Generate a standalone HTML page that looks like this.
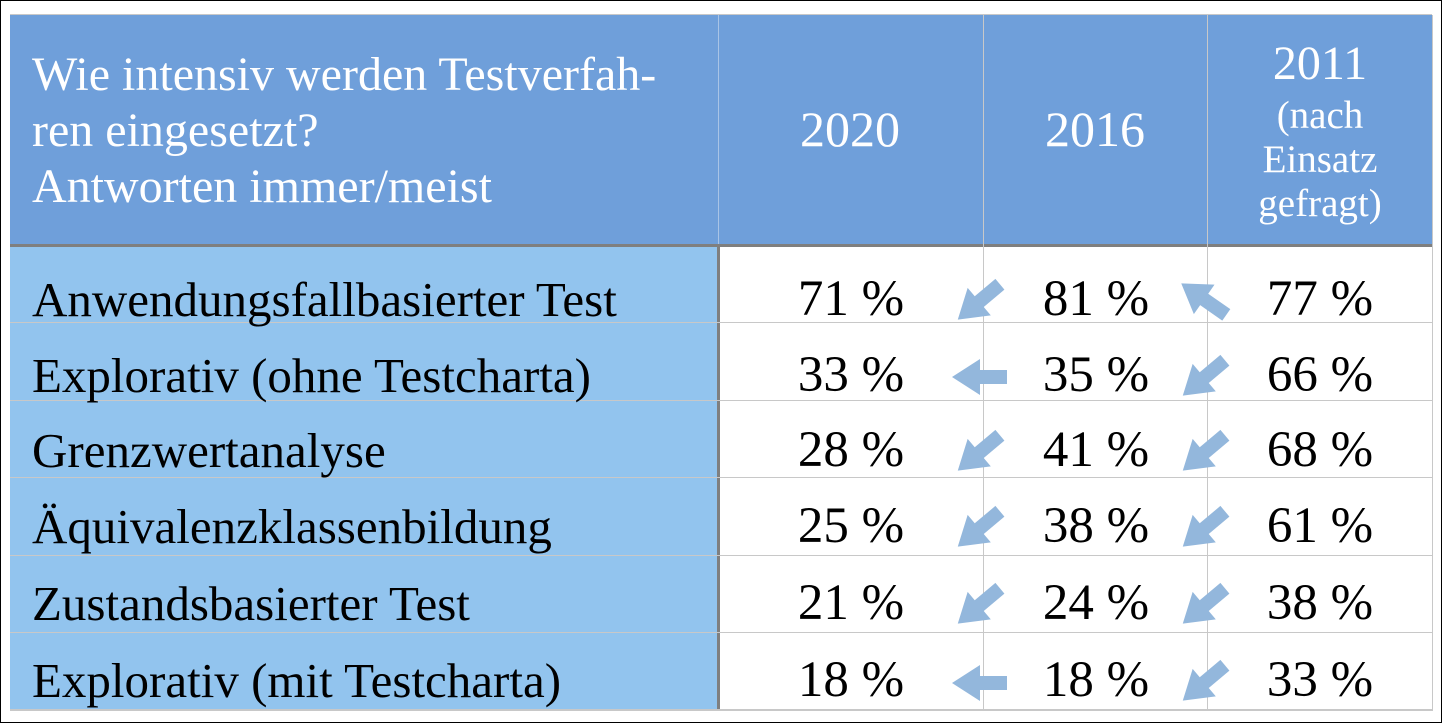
<!DOCTYPE html>
<html><head><meta charset="utf-8"><style>
body{margin:0;width:1442px;height:723px;background:#fff;overflow:hidden;position:relative;font-family:"Liberation Serif",serif}
.a{position:absolute}
.t{position:absolute;white-space:nowrap;line-height:1}
.w{color:#fff}
.n{font-size:51px;color:#000;text-align:center;width:200px}
.l{font-size:49px;color:#000;left:32px}
</style></head><body>
<div class="a" style="left:0;top:0;width:1440px;height:721px;border:1px solid #000"></div>
<div class="a" style="left:10px;top:15px;width:1422px;height:229px;background:#6f9fda"></div>
<div class="a" style="left:10px;top:246px;width:707px;height:463px;background:#92c4ee"></div>
<div class="a" style="left:10px;top:14px;width:1422px;height:1px;background:#c8c8c8"></div>
<div class="a" style="left:10px;top:244px;width:1422px;height:3px;background:#7f7f7f"></div>
<div class="a" style="left:717px;top:244px;width:3px;height:467px;background:#7f7f7f"></div>
<div class="a" style="left:718px;top:15px;width:1px;height:229px;background:#a9c4e6"></div>
<div class="a" style="left:983px;top:15px;width:1px;height:696px;background:#c8c8c8"></div>
<div class="a" style="left:1207px;top:15px;width:1px;height:696px;background:#c8c8c8"></div>
<div class="a" style="left:1432px;top:15px;width:1px;height:696px;background:#c8c8c8"></div>
<div class="a" style="left:10px;top:322px;width:1422px;height:1px;background:#c8c8c8"></div>
<div class="a" style="left:10px;top:400px;width:1422px;height:1px;background:#c8c8c8"></div>
<div class="a" style="left:10px;top:477px;width:1422px;height:1px;background:#c8c8c8"></div>
<div class="a" style="left:10px;top:555px;width:1422px;height:1px;background:#c8c8c8"></div>
<div class="a" style="left:10px;top:632px;width:1422px;height:1px;background:#c8c8c8"></div>
<div class="a" style="left:10px;top:709px;width:1422px;height:2px;background:#c8c8c8"></div>

<div class="t w" style="left:32px;top:47px;font-size:48px;line-height:56px">Wie intensiv werden Testverfah-<br>ren eingesetzt?<br>Antworten immer/meist</div>
<div class="t w" style="left:750px;top:104px;font-size:50px;width:200px;text-align:center">2020</div>
<div class="t w" style="left:995px;top:104px;font-size:50px;width:200px;text-align:center">2016</div>
<div class="t w" style="left:1220px;top:40px;font-size:48px;width:200px;text-align:center">2011</div>
<div class="t w" style="left:1220px;top:94px;font-size:39px;line-height:44px;width:200px;text-align:center">(nach<br>Einsatz<br>gefragt)</div>

<div class="t l" style="top:275px">Anwendungsfallbasierter Test</div>
<div class="t l" style="top:351px">Explorativ (ohne Testcharta)</div>
<div class="t l" style="top:426px">Grenzwertanalyse</div>
<div class="t l" style="top:502px">Äquivalenzklassenbildung</div>
<div class="t l" style="top:579px">Zustandsbasierter Test</div>
<div class="t l" style="top:656px">Explorativ (mit Testcharta)</div>

<div class="t n" style="left:751px;top:274px">71 %</div><div class="t n" style="left:996px;top:274px">81 %</div><div class="t n" style="left:1220px;top:274px">77 %</div>
<div class="t n" style="left:751px;top:350px">33 %</div><div class="t n" style="left:996px;top:350px">35 %</div><div class="t n" style="left:1220px;top:350px">66 %</div>
<div class="t n" style="left:751px;top:425px">28 %</div><div class="t n" style="left:996px;top:425px">41 %</div><div class="t n" style="left:1220px;top:425px">68 %</div>
<div class="t n" style="left:751px;top:501px">25 %</div><div class="t n" style="left:996px;top:501px">38 %</div><div class="t n" style="left:1220px;top:501px">61 %</div>
<div class="t n" style="left:751px;top:578px">21 %</div><div class="t n" style="left:996px;top:578px">24 %</div><div class="t n" style="left:1220px;top:578px">38 %</div>
<div class="t n" style="left:751px;top:655px">18 %</div><div class="t n" style="left:996px;top:655px">18 %</div><div class="t n" style="left:1220px;top:655px">33 %</div>

<svg class="a" style="left:0;top:0" width="1442" height="723">
<defs><polygon id="ar" points="-29,0 -1,-18 -1,-7 26,-7 26,7 -1,7 -1,18" fill="#93b7dc"/></defs>
<use href="#ar" transform="translate(980,301) rotate(-40)"/>
<use href="#ar" transform="translate(1205,300) rotate(35)"/>
<use href="#ar" transform="translate(981,377)"/>
<use href="#ar" transform="translate(1205,377) rotate(-40)"/>
<use href="#ar" transform="translate(980,452) rotate(-40)"/>
<use href="#ar" transform="translate(1205,452) rotate(-40)"/>
<use href="#ar" transform="translate(980,528) rotate(-40)"/>
<use href="#ar" transform="translate(1205,528) rotate(-40)"/>
<use href="#ar" transform="translate(980,605) rotate(-40)"/>
<use href="#ar" transform="translate(1205,605) rotate(-40)"/>
<use href="#ar" transform="translate(981,683)"/>
<use href="#ar" transform="translate(1205,682) rotate(-40)"/>
</svg>
</body></html>
